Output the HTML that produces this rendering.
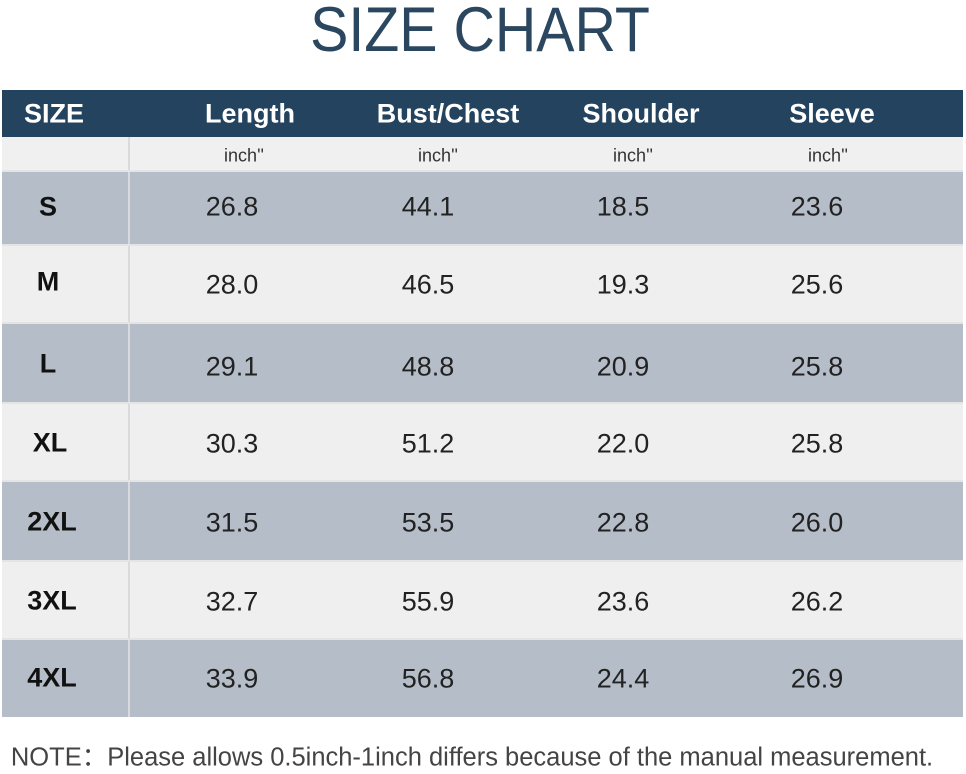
<!DOCTYPE html>
<html><head><style>
body{margin:0;width:966px;height:768px;background:#fff;position:relative;overflow:hidden;font-family:"Liberation Sans",sans-serif}
.t{position:absolute;white-space:nowrap;transform:translate(-50%,-50%)}
.r{position:absolute;left:2px;width:961px}
</style></head><body>
<div class="t" style="left:480px;top:30px;font-size:63px;color:#2b4760;transform:translate(-50%,-50%) scaleX(0.91)">SIZE CHART</div>
<div class="r" style="top:90px;height:47px;background:#24435e"></div>
<div class="r" style="top:137px;height:34px;background:#f0f0f0"></div>
<div class="r" style="top:171px;height:74px;background:#b5bec8"></div>
<div class="r" style="top:245px;height:78px;background:#efefef"></div>
<div class="r" style="top:323px;height:80px;background:#b5bec8"></div>
<div class="r" style="top:403px;height:78px;background:#efefef"></div>
<div class="r" style="top:481px;height:80px;background:#b5bec8"></div>
<div class="r" style="top:561px;height:78px;background:#efefef"></div>
<div class="r" style="top:639px;height:78px;background:#b5bec8"></div>
<div style="position:absolute;left:128px;top:137px;width:2px;height:580px;background:#d8dadd"></div>
<div style="position:absolute;left:2px;top:170px;width:961px;height:2px;background:#e4e4e4"></div>
<div style="position:absolute;left:2px;top:244px;width:961px;height:2px;background:#e4e4e4"></div>
<div style="position:absolute;left:2px;top:322px;width:961px;height:2px;background:#e4e4e4"></div>
<div style="position:absolute;left:2px;top:402px;width:961px;height:2px;background:#e4e4e4"></div>
<div style="position:absolute;left:2px;top:480px;width:961px;height:2px;background:#e4e4e4"></div>
<div style="position:absolute;left:2px;top:560px;width:961px;height:2px;background:#e4e4e4"></div>
<div style="position:absolute;left:2px;top:638px;width:961px;height:2px;background:#e4e4e4"></div>
<div style="color:#fff;font-weight:bold;font-size:27px">
<div class="t" style="left:54px;top:114px">SIZE</div>
<div class="t" style="left:250px;top:114px">Length</div>
<div class="t" style="left:448px;top:114px">Bust/Chest</div>
<div class="t" style="left:641px;top:114px">Shoulder</div>
<div class="t" style="left:832px;top:114px">Sleeve</div>
</div>
<div style="color:#333;font-size:18px">
<div class="t" style="left:244px;top:156px">inch''</div>
<div class="t" style="left:438px;top:156px">inch''</div>
<div class="t" style="left:633px;top:156px">inch''</div>
<div class="t" style="left:828px;top:156px">inch''</div>
</div>
<div style="color:#111;font-weight:bold;font-size:27px">
<div class="t" style="left:48px;top:207px">S</div>
<div class="t" style="left:48px;top:282px">M</div>
<div class="t" style="left:48px;top:364px">L</div>
<div class="t" style="left:50px;top:443px">XL</div>
<div class="t" style="left:52px;top:522px">2XL</div>
<div class="t" style="left:52px;top:601px">3XL</div>
<div class="t" style="left:52px;top:678px">4XL</div>
</div>
<div style="color:#222;font-size:27px">
<div class="t" style="left:232px;top:207px">26.8</div><div class="t" style="left:428px;top:207px">44.1</div><div class="t" style="left:623px;top:207px">18.5</div><div class="t" style="left:817px;top:207px">23.6</div>
<div class="t" style="left:232px;top:285px">28.0</div><div class="t" style="left:428px;top:285px">46.5</div><div class="t" style="left:623px;top:285px">19.3</div><div class="t" style="left:817px;top:285px">25.6</div>
<div class="t" style="left:232px;top:367px">29.1</div><div class="t" style="left:428px;top:367px">48.8</div><div class="t" style="left:623px;top:367px">20.9</div><div class="t" style="left:817px;top:367px">25.8</div>
<div class="t" style="left:232px;top:444px">30.3</div><div class="t" style="left:428px;top:444px">51.2</div><div class="t" style="left:623px;top:444px">22.0</div><div class="t" style="left:817px;top:444px">25.8</div>
<div class="t" style="left:232px;top:523px">31.5</div><div class="t" style="left:428px;top:523px">53.5</div><div class="t" style="left:623px;top:523px">22.8</div><div class="t" style="left:817px;top:523px">26.0</div>
<div class="t" style="left:232px;top:602px">32.7</div><div class="t" style="left:428px;top:602px">55.9</div><div class="t" style="left:623px;top:602px">23.6</div><div class="t" style="left:817px;top:602px">26.2</div>
<div class="t" style="left:232px;top:679px">33.9</div><div class="t" style="left:428px;top:679px">56.8</div><div class="t" style="left:623px;top:679px">24.4</div><div class="t" style="left:817px;top:679px">26.9</div>
</div>
<div class="t" style="left:472px;top:755px;font-size:25.5px;color:#444;font-family:'Liberation Sans','Noto Sans CJK SC',sans-serif">NOTE：Please allows 0.5inch-1inch differs because of the manual measurement.</div>
</body></html>
